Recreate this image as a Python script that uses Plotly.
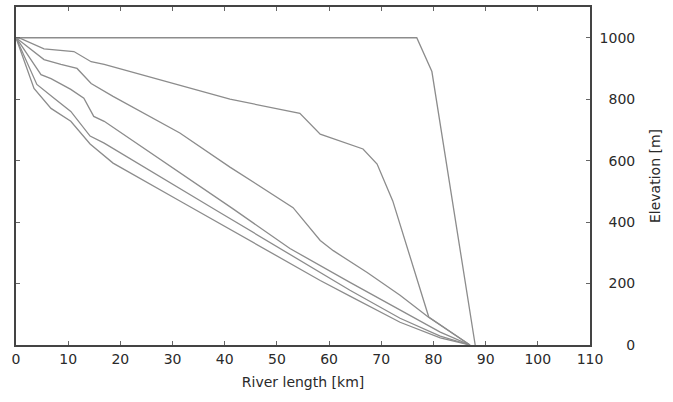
import plotly.graph_objects as go

# River profiles: distance (km) and elevation (m)
km_1 = [0, 76.8, 79.7, 88.0]
el_1 = [1000, 1000, 890, 0]

km_2 = [0, 0.96, 5.37, 11.1, 14.4, 16.9, 41.0, 54.4, 58.3, 62.1, 66.5, 69.2, 72.2, 79.1, 87.0]
el_2 = [1000, 997, 964, 955, 922, 913, 800, 754, 686, 663, 638, 589, 469, 91, 0]

km_3 = [0, 0.96, 5.37, 8.6, 11.7, 14.4, 18.6, 31.4, 41.0, 53.1, 58.3, 60.8, 67.3, 73.6, 79.0, 87.0]
el_3 = [1000, 987, 929, 913, 900, 851, 809, 690, 579, 447, 340, 307, 236, 162, 91, 0]

km_4 = [0, 0.96, 4.79, 6.71, 10.5, 13.0, 14.9, 16.9, 41.6, 52.5, 64.0, 73.6, 81.3, 87.0]
el_4 = [1000, 977, 880, 867, 832, 803, 744, 728, 443, 314, 204, 113, 42, 0]

km_5 = [0, 0.96, 4.0, 7.3, 10.5, 14.2, 16.9, 38.5, 56.9, 64.0, 73.6, 81.3, 87.0]
el_5 = [1000, 964, 848, 803, 760, 680, 657, 437, 249, 178, 87, 29, 0]

km_6 = [0, 0.96, 3.45, 6.71, 10.5, 14.2, 18.6, 32.0, 58.3, 64.0, 73.6, 81.3, 87.0]
el_6 = [1000, 955, 835, 770, 728, 654, 592, 463, 210, 159, 74, 23, 0]

series = [(km_1, el_1), (km_2, el_2), (km_3, el_3), (km_4, el_4), (km_5, el_5), (km_6, el_6)]

x_ticks = [0, 10, 20, 30, 40, 50, 60, 70, 80, 90, 100, 110]
y_ticks = [0, 200, 400, 600, 800, 1000]
y_labels = ["0", "200", "400", "600", "800", "1000"]

# right-align the y tick labels with figure spaces (digit-width)
y_text = ["\u2007" * (4 - len(s)) + s for s in y_labels]

fig = go.Figure()
for xs, ys in series:
    fig.add_trace(go.Scatter(x=xs, y=ys, mode="lines",
                             line=dict(color="#8c8c8c", width=1.3),
                             showlegend=False, hoverinfo="skip"))

axis_font = dict(family="DejaVu Sans, sans-serif", size=14, color="#2a2a2a")

fig.update_layout(
    width=673, height=402,
    margin=dict(l=16, r=83, t=5, b=57),
    paper_bgcolor="white", plot_bgcolor="white",
    font=axis_font,
    xaxis=dict(range=[0, 110], tickvals=x_ticks, showgrid=False, zeroline=False,
               showline=True, linecolor="#444", linewidth=1.6, mirror="ticks",
               ticks="inside", ticklen=4, tickcolor="#666",
               title=dict(text="River length [km]", font=axis_font, standoff=12),
               tickfont=axis_font),
    yaxis=dict(range=[0, 1100], tickvals=y_ticks, ticktext=y_text, side="right",
               showgrid=False, zeroline=False,
               showline=True, linecolor="#444", linewidth=1.6, mirror="ticks",
               ticks="inside", ticklen=4, tickcolor="#666", ticklabelstandoff=5,
               title=dict(text="Elevation [m]", font=axis_font, standoff=16),
               tickfont=axis_font),
)

fig.write_html("out.html")
